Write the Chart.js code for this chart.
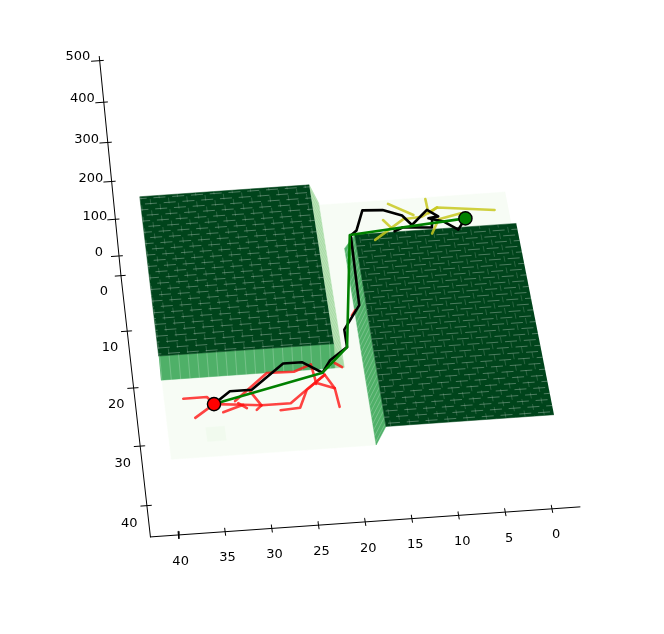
<!DOCTYPE html>
<html>
<head>
<meta charset="utf-8">
<title>Surface with paths</title>
<script src="https://cdn.jsdelivr.net/npm/chart.js@4/dist/chart.umd.js"></script>
<style>
  html, body { margin: 0; padding: 0; background: #fff; }
  canvas { display: block; }
</style>
</head>
<body>
<canvas id="myChart" width="664" height="634"></canvas>
<script>
// Tick labels on the three axes
const xTicks = [0, 5, 10, 15, 20, 25, 30, 35, 40];
const yTicks = [0, 10, 20, 30, 40];
const zTicks = [0, 100, 200, 300, 400, 500];

// Axis box limits
const xLimits = [-3, 43];
const yLimits = [0, 45.16];
const zLimits = [-55, 510];

// Surface: floor height, block height and the extent of each part
const floorZ = 100;
const blockZ = 150;
const floorX = [0, 40];
const floorY = [0, 41.5];
const leftBlockX = [21.55, 40.1];
const leftBlockY = [-0.35, 27.35];
const rightBlockX = [0, 17.5];
const rightBlockY = [9, 41.5];
const patchX = [34, 36];
const patchY = [36.7, 39];

// Start and goal
const startPoint = [34.82, 32.95];
const goalPoint = [4.87, 4.2];

// Searched path (black), [x, y] on the floor
const blackPath = [
  [34.82, 32.95], [32.97, 31], [30.65, 31], [26.95, 27], [24.94, 27], [22.93, 29], [21.93, 27], [19.92, 25],
  [19.92, 22], [17.91, 18], [17.61, 5.8], [16.91, 5], [15.91, 1.5], [13.7, 1.7], [11.69, 2.9], [10.79, 4.7],
  [8.88, 2.2], [7.78, 3.5], [8.88, 3.7], [7.28, 4.5], [5.87, 6.1], [4.87, 4.2]
];
const blackBranch = [[12.8, 5.6], [11.79, 5], [8.68, 5.4], [8.48, 3.8]];

// Straight path (green)
const greenPath = [[34.82, 32.95], [22.93, 29], [19.92, 25], [17.71, 5.7], [4.87, 4.2]];

// Tree grown from the start (red)
const redBranches = [
  [[37.98, 31.7], [35.47, 31.7], [34.82, 32.95]],
  [[36.97, 35], [34.82, 32.95]],
  [[33.96, 34.4], [31.76, 33.4]],
  [[34.82, 32.95], [31.76, 33.4], [29.85, 33.7], [26.75, 33.7], [24.67, 31.4], [22.73, 29.36]],
  [[32.26, 33.06], [31.42, 34]],
  [[30.41, 34.4], [29.85, 33.7]],
  [[30.95, 31], [29.85, 33.7]],
  [[32.56, 32.69], [28.82, 28.4], [25.94, 28.5], [24.03, 27.47], [23.82, 29.93], [23.79, 30.8]],
  [[27.92, 34.72], [25.83, 34.54], [24.86, 31.67], [22.73, 29.36], [21.89, 31.72], [21.68, 34.85]],
  [[23.71, 30.65], [21.89, 31.72]],
  [[21.49, 27.52], [20.77, 28.28]],
  [[18.41, 18.8], [18.87, 19.67]]
];

// Tree grown from the goal (yellow)
const yellowBranches = [
  [[15.05, 6.87], [11.65, 3.59], [9.55, 3.36], [7.72, 1.9], [1.54, 3.06]],
  [[13, 0.66], [10.44, 2.95]],
  [[13.84, 3.47], [13.04, 5.06]],
  [[8.84, 0.24], [8.79, 2.15]],
  [[8.75, 2.83], [7.72, 1.9]],
  [[5.27, 3.24], [7.78, 4], [8.77, 6.46]]
];

// Perspective fitted to the axis ticks, returns canvas coordinates
const project = (x, y, z) => {
  const w = 1 - 0.00115 * y - 0.00015 * z;
  return {
    x: (503 - 8.93 * x + 0.485 * y - 0.0536 * z) / w,
    y: (229.1 + 0.625 * x + 5.215 * y - 0.3997 * z) / w
  };
};

const datasets = [];

const addPolygon = (corners, color) => {
  datasets.push({
    data: corners.map((c) => project(c[0], c[1], c[2])),
    showLine: true,
    fill: "shape",
    backgroundColor: color,
    borderColor: color,
    borderWidth: 0.5,
    pointRadius: 0
  });
};

const addLine = (corners, color, width, dash, dashOffset) => {
  datasets.push({
    data: corners.map((c) => project(c[0], c[1], c[2])),
    showLine: true,
    fill: false,
    borderColor: color,
    borderWidth: width,
    borderDash: dash || [],
    borderDashOffset: dashOffset || 0,
    borderCapStyle: dash ? "butt" : "round",
    borderJoinStyle: "round",
    pointRadius: 0,
    tension: 0
  });
};

const addPath = (path, color, width) => {
  addLine(path.map((p) => [p[0], p[1], floorZ]), color, width);
};

const seamColor = "rgba(255,255,255,0.22)";
const rowSeam = "rgba(255,255,255,0.3)";
const columnSeam = "rgba(255,255,255,0.17)";

// Seams on a block top, they break up in a brick pattern
const addTopSeams = (x0, x1, y0, y1) => {
  for (let x = Math.floor(x0) + 1; x < x1; x++) {
    addLine([[x, y0, blockZ], [x, y1, blockZ]], columnSeam, 1, [5.8, 5.8], x % 2 ? 8.7 : 2.9);
  }
  for (let y = Math.floor(y0) + 1; y < y1; y++) {
    addLine([[x0, y, blockZ], [x1, y, blockZ]], rowSeam, 1, [12, 6.8], y % 2 ? 15.4 : 6);
  }
};

// Floor, it stops at the right block
addPolygon([
  [floorX[0], floorY[0], floorZ], [floorX[1], floorY[0], floorZ],
  [floorX[1], floorY[1], floorZ], [rightBlockX[1] + 1, floorY[1], floorZ],
  [rightBlockX[1] + 1, rightBlockY[0] - 1, floorZ], [floorX[0], rightBlockY[0] - 1, floorZ]
], "#f7fcf5");
addPolygon([
  [patchX[0], patchY[0], floorZ], [patchX[1], patchY[0], floorZ],
  [patchX[1], patchY[1], floorZ], [patchX[0], patchY[1], floorZ]
], "#f1faee");

// Left block: side wall, front wall, top
const lx0 = leftBlockX[0], lx1 = leftBlockX[1], ly0 = leftBlockY[0], ly1 = leftBlockY[1];
addPolygon([
  [lx0, ly0, blockZ], [lx0 - 1, ly0, floorZ], [lx0 - 1, ly1 + 1, floorZ], [lx0, ly1 + 1, floorZ], [lx0, ly1, blockZ]
], "#a9dca6");
for (let y = Math.ceil(ly0); y <= ly1; y++) {
  addLine([[lx0, y, blockZ], [lx0 - 1, y, floorZ]], seamColor, 1);
}
addPolygon([
  [lx1, ly1, blockZ], [lx0, ly1, blockZ], [lx0, ly1 + 1, floorZ], [lx1, ly1 + 1, floorZ]
], "#4fb068");
for (let x = Math.ceil(lx0); x <= lx1; x++) {
  addLine([[x, ly1, blockZ], [x, ly1 + 1, floorZ]], seamColor, 1);
}
addPolygon([
  [lx0, ly0, blockZ], [lx1, ly0, blockZ], [lx1, ly1, blockZ], [lx0, ly1, blockZ]
], "#00441b");
addTopSeams(lx0, lx1, ly0, ly1);

// Right block: side wall, top
const rx0 = rightBlockX[0], rx1 = rightBlockX[1], ry0 = rightBlockY[0], ry1 = rightBlockY[1];
addPolygon([
  [rx1, ry0, blockZ], [rx1 + 1, ry0 - 1, floorZ], [rx1 + 1, ry1, floorZ], [rx1, ry1, blockZ]
], "#4fb068");
for (let y = ry0; y <= ry1; y++) {
  addLine([[rx1, y, blockZ], [rx1 + 1, y, floorZ]], seamColor, 1);
}
addPolygon([
  [rx0, ry0, blockZ], [rx1, ry0, blockZ], [rx1, ry1, blockZ], [rx0, ry1, blockZ]
], "#00441b");
addTopSeams(rx0, rx1, ry0, ry1);

// Axes and tick marks
const axisColor = "#000";
addLine([[xLimits[0], yLimits[1], zLimits[0]], [xLimits[1], yLimits[1], zLimits[0]]], axisColor, 1);
addLine([[xLimits[1], yLimits[0], zLimits[0]], [xLimits[1], yLimits[1], zLimits[0]]], axisColor, 1);
addLine([[xLimits[1], yLimits[0], zLimits[0]], [xLimits[1], yLimits[0], zLimits[1]]], axisColor, 1);
xTicks.forEach((t) => {
  addLine([[t, yLimits[1] - 0.6, zLimits[0]], [t, yLimits[1] + 0.6, zLimits[0]]], axisColor, 1);
});
yTicks.forEach((t) => {
  addLine([[xLimits[1] - 0.5, t, zLimits[0]], [xLimits[1] + 0.65, t, zLimits[0]]], axisColor, 1);
});
zTicks.forEach((t) => {
  addLine([[xLimits[1] - 0.4, yLimits[0], t], [xLimits[1] + 0.85, yLimits[0], t]], axisColor, 1);
});

// Paths
yellowBranches.forEach((b) => addPath(b, "rgba(200,200,30,0.85)", 2.6));
redBranches.forEach((b) => addPath(b, "rgba(255,20,20,0.8)", 2.6));
addPath(blackPath, "#000", 2.6);
addPath(blackBranch, "#000", 2.6);
addPath(greenPath, "#008000", 2.6);

// Start and goal markers
const addMarker = (p, color) => {
  datasets.push({
    data: [project(p[0], p[1], floorZ)],
    showLine: false,
    pointRadius: 6.6,
    pointBackgroundColor: color,
    pointBorderColor: "#000",
    pointBorderWidth: 1.4
  });
};
addMarker(startPoint, "#ff0000");
addMarker(goalPoint, "#008000");

// Chart.js paints the first dataset last, so put them in painter's order
datasets.forEach((d, i) => { d.order = -i; });

// Tick labels sit on the projected axis positions
const tickLabels = {
  id: "tickLabels",
  afterDraw(chart) {
    const ctx = chart.ctx;
    const sx = chart.scales.x, sy = chart.scales.y;
    const put = (text, p) => ctx.fillText(String(text), sx.getPixelForValue(p.x), sy.getPixelForValue(p.y));
    ctx.save();
    ctx.font = '13px "DejaVu Sans"';
    ctx.fillStyle = "#000";
    ctx.textAlign = "center";
    ctx.textBaseline = "middle";
    xTicks.forEach((t) => put(t, project(t + 0.1, yLimits[1] + 4.3, zLimits[0])));
    yTicks.forEach((t) => put(t, project(xLimits[1] + 2.1, t + 2.7, zLimits[0])));
    zTicks.forEach((t) => put(t, project(xLimits[1] + 2.2, yLimits[0], t + 12)));
    ctx.restore();
  }
};

const ctx = document.getElementById("myChart").getContext("2d");
const myChart = new Chart(ctx, {
  type: "scatter",
  data: { datasets: datasets },
  options: {
    responsive: false,
    animation: false,
    layout: { padding: 0, autoPadding: false },
    plugins: { legend: { display: false }, tooltip: { enabled: false } },
    scales: {
      x: { type: "linear", min: 0, max: 664, display: false },
      y: { type: "linear", min: 0, max: 634, reverse: true, display: false }
    }
  },
  plugins: [tickLabels]
});
</script>
</body>
</html>
